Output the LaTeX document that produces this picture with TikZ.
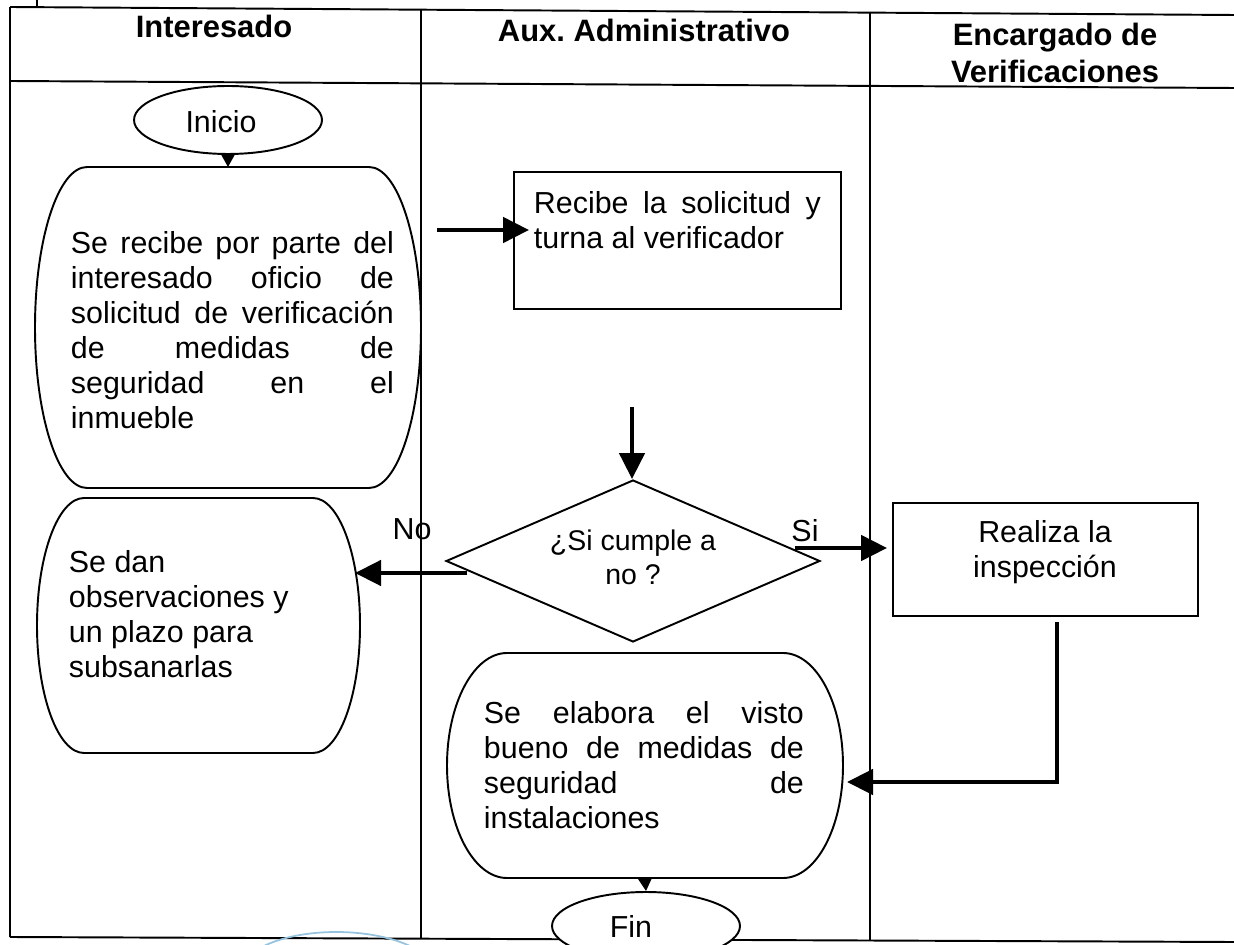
\documentclass[tikz,border=0pt]{standalone}
\usepackage{fontspec}
\setmainfont{Liberation Sans}
\usetikzlibrary{shapes.geometric,arrows.meta,calc}
\definecolor{stampblue}{RGB}{150,195,222}
\frenchspacing
\newcommand{\jl}[2]{\makebox[#1][s]{#2}}
% terminator-like outline: name, x1, y1, x2, y2, rx (pixel units)
\newcommand{\termbox}[6]{%
  \node[inner sep=0pt, outer sep=0pt, minimum width={(#4-#2)*0.02cm}, minimum height={(#5-#3)*0.02cm}] (#1) at ({(#2+#4)/2},{(#3+#5)/2}) {};
  \draw (#2+#6,#3) -- (#4-#6,#3)
    arc[start angle=-90, end angle=90, x radius=#6, y radius={(#5-#3)/2}]
    -- (#2+#6,#5)
    arc[start angle=90, end angle=270, x radius=#6, y radius={(#5-#3)/2}]
    -- cycle;}
\begin{document}
\begin{tikzpicture}[x=0.02cm, y=-0.02cm, line width=1.1pt,
  body/.style={font=\fontsize{17.3pt}{19.9pt}\selectfont, inner sep=0pt, align=left},
  bodyc/.style={font=\fontsize{17.3pt}{19.9pt}\selectfont, inner sep=0pt, align=center},
  diatext/.style={font=\fontsize{16.2pt}{19.3pt}\selectfont, inner sep=0pt, align=center},
  head/.style={font=\fontsize{17.6pt}{21pt}\selectfont\bfseries, inner sep=0pt, align=center},
  bigarrow/.style={line width=2.6pt, -{Triangle[length=0.52cm,width=0.5cm]}},
  smallarrow/.style={line width=0.9pt, -{Triangle[length=0.26cm,width=0.28cm]}},
  procbox/.style={draw, rectangle, inner sep=0pt},
  termin/.style={draw, ellipse, inner sep=0pt, minimum width=3.76cm, minimum height=1.36cm}]
\useasboundingbox (0,0) rectangle (1234,945);

% frame and lanes (the scan is slightly tilted)
\draw (10,7) -- (1234,15);
\draw (10,81) -- (1234,88);
\draw (10,937) -- (1234,942);
\draw (10,7) -- (10,937);
\draw (421,10) -- (421,939);
\draw (870,12) -- (870,940);
\draw (37,0) -- (37,7);

% headers
\node[head, anchor=base] (h1) at (214,38) {Interesado};
\node[head, anchor=base] (h2) at (644,42) {Aux. Administrativo};
\node[head, anchor=north] (h3) at (1055,22.5) {Encargado de\\Verificaciones};

% Inicio
\node[termin] (ini) at (228,120) {};
\node[bodyc, anchor=base] (tini) at (221,133) {Inicio};

% process 1
\termbox{p1}{35}{167}{421}{488}{52}
\node[body, anchor=north west] (t1) at (70,231) {\jl{6.46cm}{Se recibe por parte del}\\
\jl{6.46cm}{interesado oficio de}\\
\jl{6.46cm}{solicitud de verificación}\\
\jl{6.46cm}{de medidas de}\\
\jl{6.46cm}{seguridad en el}\\
inmueble};

% box 2
\node[procbox, minimum width=6.54cm, minimum height=2.74cm] (b2) at (677.5,240.5) {};
\node[body, anchor=north west] (t2) at (533,191) {\jl{5.74cm}{Recibe la solicitud y}\\turna al verificador};

% decision
\node[draw, diamond, inner sep=0pt, minimum width=7.48cm, minimum height=3.24cm] (dia) at (633,561) {};
\node[diatext, anchor=north] (tdia) at (633,529) {¿Si cumple a\\no ?};
\node[bodyc, anchor=base] (lno) at (412,540) {No};
\node[bodyc, anchor=base] (lsi) at (805,541) {Si};

% observaciones
\termbox{p2}{37}{498}{360}{753}{47}
\node[body, anchor=north west] (t3) at (68,550) {Se dan\\observaciones y\\un plazo para\\subsanarlas};

% Realiza
\node[procbox, minimum width=6.1cm, minimum height=2.26cm] (b3) at (1045.5,559.5) {};
\node[bodyc, anchor=north] (t4) at (1045,520) {Realiza la\\inspección};

% visto bueno
\termbox{p3}{447}{653}{843}{878}{60}
\node[body, anchor=north west] (t5) at (483,701) {\jl{6.4cm}{Se elabora el visto}\\
\jl{6.4cm}{bueno de medidas de}\\
\jl{6.4cm}{seguridad de}\\
instalaciones};

% Fin
\node[termin, fill=white] (fin) at (646,926) {};
\node[bodyc, anchor=base] (tfin) at (631,937) {Fin};

% connectors
\coordinate (a1s) at (437,230);
\coordinate (a2s) at (632,407);
\coordinate (a3s) at (467,573);
\coordinate (a4s) at (795,548);
\coordinate (a5s) at (1057,622);
\coordinate (a5c) at (1057,782);
\draw[smallarrow] (ini.south) -- (ini.south |- p1.north);
\draw[bigarrow, shorten >=-0.32cm] (a1s) -- (a1s -| b2.west);
\draw[bigarrow] (a2s) -- (a2s |- dia.north);
\draw[bigarrow, shorten >=-0.1cm] (a3s) -- (a3s -| p2.east);
\draw[bigarrow, shorten >=0.1cm] (a4s) -- (a4s -| b3.west);
\draw[bigarrow, shorten >=0.08cm] (a5s) -- (a5c) -- (a5c -| p3.east);
\draw[smallarrow] (p3.south) -- (fin.north);

% stamp trace
\draw[stampblue, line width=1pt] (262,947) .. controls (300,927) and (372,927) .. (412,947);
\end{tikzpicture}
\end{document}
